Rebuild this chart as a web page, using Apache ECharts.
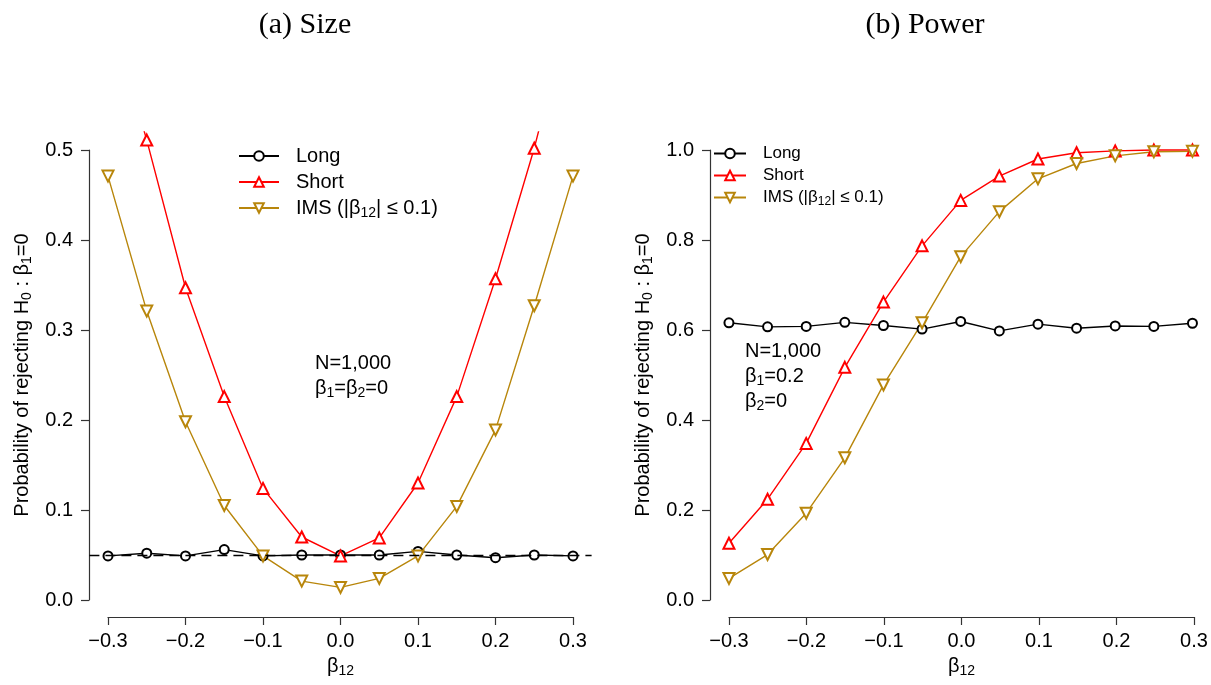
<!DOCTYPE html>
<html>
<head>
<meta charset="utf-8">
<script src="https://cdn.jsdelivr.net/npm/echarts@6/dist/echarts.min.js"></script>
<style>
  html, body { margin: 0; padding: 0; background: #fff; }
  #chart { width: 1211px; height: 685px; }
</style>
</head>
<body>
<div id="chart"></div>
<script>
// Interaction coefficient values on the x axis
const beta12 = [-0.3, -0.25, -0.2, -0.15, -0.1, -0.05, 0, 0.05, 0.1, 0.15, 0.2, 0.25, 0.3];

// (a) Size: rejection probabilities under beta1 = beta2 = 0
const sizeLong  = [0.049, 0.052, 0.049, 0.056, 0.049, 0.050, 0.050, 0.050, 0.054, 0.050, 0.047, 0.050, 0.049];
const sizeShort = [0.66, 0.511, 0.347, 0.226, 0.124, 0.070, 0.049, 0.069, 0.130, 0.226, 0.357, 0.502, 0.67];
const sizeIMS   = [0.471, 0.321, 0.198, 0.105, 0.049, 0.021, 0.014, 0.024, 0.049, 0.104, 0.189, 0.327, 0.471];
const nominalLevel = 0.05;

// (b) Power: rejection probabilities under beta1 = 0.2, beta2 = 0
const powerLong  = [0.616, 0.607, 0.608, 0.617, 0.610, 0.602, 0.619, 0.598, 0.613, 0.604, 0.609, 0.608, 0.615];
const powerShort = [0.126, 0.224, 0.348, 0.517, 0.662, 0.787, 0.888, 0.942, 0.980, 0.994, 0.998, 1.0, 1.0];
const powerIMS   = [0.048, 0.101, 0.193, 0.316, 0.478, 0.616, 0.763, 0.863, 0.936, 0.970, 0.987, 0.996, 0.997];

// Axis tick settings
const xTickMin = -0.3, xTickMax = 0.3, xTickStep = 0.1;
const sizeTickMax = 0.5, sizeTickStep = 0.1;
const powerTickMax = 1.0, powerTickStep = 0.2;

const SANS = "'Liberation Sans', Arial, sans-serif";
const SERIF = "'Liberation Serif', 'DejaVu Serif', serif";
const COLORS = { Long: '#000000', Short: '#FF0000', IMS: '#B8860B' };

const pairs = (ys) => beta12.map((x, i) => [x, ys[i]]);
const fmtSigned = (v) => {
  const s = Math.abs(v).toFixed(1);
  return v < -1e-9 ? '\u2212' + s : s;
};

const subRich = (size) => ({
  t: { fontSize: size, fontFamily: SANS, color: '#000', lineHeight: size + 4 },
  s: { fontSize: Math.round(size * 0.7), fontFamily: SANS, color: '#000', lineHeight: Math.round(size * 0.7), verticalAlign: 'bottom' }
});

const yName = '{t|Probability of rejecting H}{s|0}{t| : β}{s|1}{t|=0}';
const xName = '{t|β}{s|12}';

function frameX(gridIndex) {
  return {
    type: 'value', gridIndex, min: xTickMin, max: xTickMax, interval: xTickStep,
    position: 'bottom', offset: 17,
    axisLine: { show: true, onZero: false, lineStyle: { color: '#333', width: 1.2 } },
    axisTick: { show: true, length: 8, lineStyle: { color: '#333', width: 1.2 } },
    axisLabel: { fontSize: 20, fontFamily: SANS, color: '#000', margin: 14, formatter: fmtSigned },
    splitLine: { show: false },
    name: xName, nameLocation: 'middle', nameGap: 37,
    nameTextStyle: { rich: subRich(20) }
  };
}
function frameY(gridIndex, max, step) {
  return {
    type: 'value', gridIndex, min: 0, max, interval: step,
    position: 'left', offset: 19,
    axisLine: { show: true, onZero: false, lineStyle: { color: '#333', width: 1.2 } },
    axisTick: { show: true, length: 8, lineStyle: { color: '#333', width: 1.2 } },
    axisLabel: { fontSize: 20, fontFamily: SANS, color: '#000', margin: 16, formatter: (v) => v.toFixed(1) },
    splitLine: { show: false },
    name: yName, nameLocation: 'middle', nameGap: 55,
    nameTextStyle: { rich: subRich(20) }
  };
}
function hiddenAxis(gridIndex, min, max) {
  return { type: 'value', gridIndex, min, max, show: false, splitLine: { show: false } };
}

function lineSeries(name, ys, xi, yi, extra) {
  const sym = name === 'Long' ? 'emptyCircle' : 'emptyTriangle';
  return Object.assign({
    name, type: 'line', xAxisIndex: xi, yAxisIndex: yi,
    data: pairs(ys),
    symbol: sym,
    symbolSize: name === 'Long' ? 9 : 11,
    symbolRotate: name === 'IMS' ? 180 : 0,
    showAllSymbol: true,
    clip: true,
    lineStyle: { color: COLORS[name], width: 1.4 },
    itemStyle: { color: COLORS[name], borderColor: COLORS[name], borderWidth: 1.5 },
    emphasis: { disabled: true },
    animation: false
  }, extra || {});
}

function legendCfg(left, top, size, width, gap) {
  return {
    data: ['Long', 'Short', 'IMS'], orient: 'vertical', left, top, padding: 0,
    itemWidth: width, itemHeight: 12, itemGap: gap,
    selectedMode: false,
    formatter: (n) => n === 'IMS' ? '{t|IMS (|β}{s|12}{t|| ≤ 0.1)}' : '{t|' + n + '}',
    textStyle: { fontSize: size, fontFamily: SANS, color: '#000', padding: [0, 0, 0, 12], rich: subRich(size) }
  };
}

function note(x, y, rich, size) {
  return {
    type: 'text', left: x, top: y,
    style: { text: rich, rich: subRich(size), fontSize: size, fontFamily: SANS, fill: '#000' }
  };
}
function heading(cx, y, text) {
  return {
    type: 'text', x: cx, y,
    style: { text, fontSize: 30, fontFamily: SERIF, fill: '#000', align: 'center', verticalAlign: 'middle' }
  };
}

const chart = echarts.init(document.getElementById('chart'), null, { renderer: 'canvas' });

chart.setOption({
  backgroundColor: '#fff',
  animation: false,
  grid: [
    { left: 89.4, top: 132, width: 502.2, height: 486 },
    { left: 108, top: 150, width: 465, height: 450 },
    { left: 710.4, top: 132, width: 502.2, height: 486 },
    { left: 729, top: 150, width: 465, height: 450 }
  ],
  xAxis: [
    hiddenAxis(0, -0.324, 0.324),
    frameX(1),
    hiddenAxis(2, -0.324, 0.324),
    frameX(3)
  ],
  yAxis: [
    hiddenAxis(0, -0.02, 0.52),
    frameY(1, sizeTickMax, sizeTickStep),
    hiddenAxis(2, -0.04, 1.04),
    frameY(3, powerTickMax, powerTickStep)
  ],
  legend: [
    legendCfg(238, 146, 20, 40, 6),
    legendCfg(713, 145, 17, 32, 5)
  ],
  series: [
    lineSeries('Long', sizeLong, 0, 0, {
      markLine: {
        silent: true, symbol: 'none', animation: false,
        label: { show: false },
        lineStyle: { color: '#000', type: [10, 6], width: 1.4 },
        data: [{ yAxis: nominalLevel }]
      }
    }),
    lineSeries('Short', sizeShort, 0, 0),
    lineSeries('IMS', sizeIMS, 0, 0),
    lineSeries('Long', powerLong, 2, 2),
    lineSeries('Short', powerShort, 2, 2),
    lineSeries('IMS', powerIMS, 2, 2)
  ],
  graphic: [
    heading(305, 25, '(a) Size'),
    heading(925, 25, '(b) Power'),
    note(315, 353, '{t|N=1,000}', 20),
    note(315, 378, '{t|β}{s|1}{t|=β}{s|2}{t|=0}', 20),
    note(745, 341, '{t|N=1,000}', 20),
    note(745, 366, '{t|β}{s|1}{t|=0.2}', 20),
    note(745, 391, '{t|β}{s|2}{t|=0}', 20)
  ]
});
</script>
</body>
</html>
